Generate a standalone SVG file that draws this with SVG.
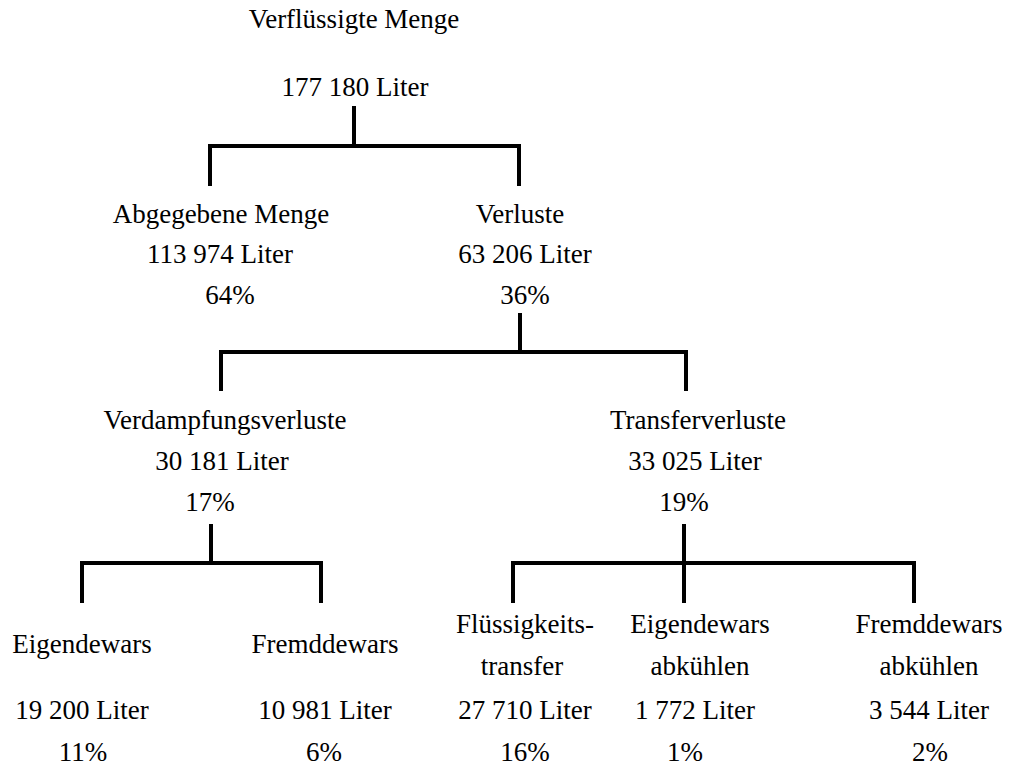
<svg xmlns="http://www.w3.org/2000/svg" width="1009" height="767" viewBox="0 0 1009 767">
<style>
.t { font-family: 'Liberation Serif', 'Times New Roman', serif; font-size: 27px; fill: #000; text-anchor: middle; }
.c { fill: none; stroke: #000; stroke-width: 4; stroke-linecap: butt; stroke-linejoin: miter; }
</style>
<rect width="1009" height="767" fill="#fff"/>
<g id="connectors">
<path class="c" d="M354 106 V146 M210 186 V146 H519 V186"/>
<path class="c" d="M520 313 V352 M221 391 V352 H686 V391"/>
<path class="c" d="M211 524 V563 M82 603 V563 H321 V603"/>
<path class="c" d="M684 524 V603 M513 603 V563 H914 V603"/>
</g>
<g class="t">
<g id="root">
<text x="354" y="28">Verflüssigte Menge</text>
<text x="355" y="96">177 180 Liter</text>
</g>
<g id="abgegeben">
<text x="221" y="223">Abgegebene Menge</text>
<text x="220" y="263">113 974 Liter</text>
<text x="230" y="304">64%</text>
</g>
<g id="verluste">
<text x="520" y="223">Verluste</text>
<text x="525" y="263">63 206 Liter</text>
<text x="525" y="304">36%</text>
</g>
<g id="verdampfung">
<text x="225" y="429">Verdampfungsverluste</text>
<text x="222" y="470">30 181 Liter</text>
<text x="210" y="511">17%</text>
</g>
<g id="transfer">
<text x="698" y="429">Transferverluste</text>
<text x="695" y="470">33 025 Liter</text>
<text x="684" y="511">19%</text>
</g>
<g id="eigen1">
<text x="82" y="653">Eigendewars</text>
<text x="82" y="719">19 200 Liter</text>
<text x="83" y="761">11%</text>
</g>
<g id="fremd1">
<text x="325" y="653">Fremddewars</text>
<text x="325" y="719">10 981 Liter</text>
<text x="324" y="761">6%</text>
</g>
<g id="fluessig">
<text x="525" y="633">Flüssigkeits-</text>
<text x="522" y="675">transfer</text>
<text x="525" y="719">27 710 Liter</text>
<text x="525" y="761">16%</text>
</g>
<g id="eigen2">
<text x="700" y="633">Eigendewars</text>
<text x="700" y="675">abkühlen</text>
<text x="695" y="719">1 772 Liter</text>
<text x="685" y="761">1%</text>
</g>
<g id="fremd2">
<text x="929" y="633">Fremddewars</text>
<text x="929" y="675">abkühlen</text>
<text x="929" y="719">3 544 Liter</text>
<text x="930" y="761">2%</text>
</g>
</g>
</svg>
